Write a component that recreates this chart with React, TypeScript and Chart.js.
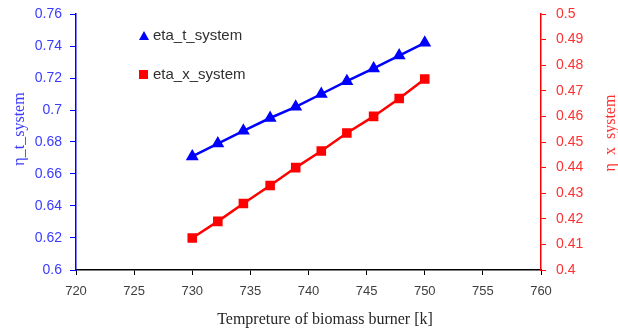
import React, { useEffect, useRef } from "react";
import { Chart, registerables } from "chart.js";

Chart.register(...registerables);

const temps = [730, 732.2, 734.4, 736.7, 738.9, 741.1, 743.3, 745.6, 747.8, 750];
const etaT = [0.671, 0.679, 0.687, 0.695, 0.702, 0.710, 0.718, 0.726, 0.734, 0.742];
const etaX = [0.4125, 0.419, 0.426, 0.433, 0.440, 0.4465, 0.4535, 0.460, 0.467, 0.4746];
const seriesNames = ["eta_t_system", "eta_x_system"];
const xTitle = "Tempreture of biomass burner [k]";
const yLeftTitle = "η_t_system";
const yRightTitle = "η  x  system";

const BLUE = "#0000ff";
const RED = "#ff0000";
const BLUE_TXT = "#3a3aff";
const RED_TXT = "#ff3030";

const overlay = {
  id: "overlay",
  afterDraw(chart: any) {
    const ctx = chart.ctx;
    ctx.save();
    ctx.fillStyle = "#262626";
    ctx.font = "16px 'Liberation Serif'";
    ctx.textAlign = "center";
    ctx.textBaseline = "middle";
    ctx.fillText(xTitle, 325, 320);
    ctx.save();
    ctx.translate(20, 129);
    ctx.rotate(-Math.PI / 2);
    ctx.fillStyle = BLUE_TXT;
    ctx.font = "16px 'Liberation Serif'";
    ctx.fillText(yLeftTitle, 0, 0);
    ctx.restore();
    ctx.save();
    ctx.translate(611, 133);
    ctx.rotate(-Math.PI / 2);
    ctx.fillStyle = RED_TXT;
    ctx.font = "16px 'Liberation Serif'";
    ctx.fillText(yRightTitle, 0, 0);
    ctx.restore();
    ctx.textAlign = "left";
    ctx.font = "15px 'Liberation Sans'";
    ctx.fillStyle = BLUE;
    ctx.beginPath();
    ctx.moveTo(144, 31);
    ctx.lineTo(149, 40);
    ctx.lineTo(139, 40);
    ctx.closePath();
    ctx.fill();
    ctx.fillStyle = "#303030";
    ctx.fillText(seriesNames[0], 153, 36);
    ctx.fillStyle = RED;
    ctx.fillRect(139, 70, 9, 9);
    ctx.fillStyle = "#303030";
    ctx.fillText(seriesNames[1], 153, 75);
    ctx.restore();
  },
};

export default function App() {
  const ref = useRef<HTMLCanvasElement>(null);
  useEffect(() => {
    const chart = new Chart(ref.current!, {
      type: "line",
      data: {
        datasets: [
          {
            label: seriesNames[0],
            data: temps.map((t, i) => ({ x: t, y: etaT[i] })),
            borderColor: BLUE,
            backgroundColor: BLUE,
            borderWidth: 2.5,
            pointStyle: "triangle",
            pointRadius: 5,
            yAxisID: "y",
          },
          {
            label: seriesNames[1],
            data: temps.map((t, i) => ({ x: t, y: etaX[i] })),
            borderColor: RED,
            backgroundColor: RED,
            borderWidth: 2.5,
            pointStyle: "rect",
            pointRadius: 5,
            yAxisID: "y1",
          },
        ],
      },
      options: {
        responsive: false,
        animation: false,
        layout: { padding: { top: 14, left: 0, right: 0, bottom: 0 } },
        plugins: { legend: { display: false }, tooltip: { enabled: false } },
        scales: {
          x: {
            type: "linear",
            min: 720,
            max: 760,
            ticks: { stepSize: 5, color: "#404040", font: { size: 13, family: "'Liberation Sans'" }, padding: 9 },
            grid: { drawOnChartArea: false, drawTicks: true, tickLength: 5, tickColor: "#000" },
            border: { color: "#000", width: 1.5 },
            afterFit: (s: any) => { s.height = 62; s.paddingLeft = 0; s.paddingRight = 0; },
          },
          y: {
            position: "left",
            min: 0.6,
            max: 0.76,
            ticks: {
              stepSize: 0.02,
              color: BLUE_TXT,
              font: { size: 14, family: "'Liberation Sans'" },
              padding: 8,
              callback: (v: any) => String(+Number(v).toFixed(2)),
            },
            grid: { drawOnChartArea: false, drawTicks: true, tickLength: 6, tickColor: BLUE },
            border: { color: BLUE, width: 1.5 },
            afterFit: (s: any) => { s.width = 76; s.paddingTop = 0; s.paddingBottom = 0; },
          },
          y1: {
            position: "right",
            min: 0.4,
            max: 0.5,
            ticks: {
              stepSize: 0.01,
              color: RED_TXT,
              font: { size: 14, family: "'Liberation Sans'" },
              padding: 10,
              callback: (v: any) => String(+Number(v).toFixed(2)),
            },
            grid: { drawOnChartArea: false, drawTicks: true, tickLength: 5, tickColor: RED },
            border: { color: RED, width: 1.5 },
            afterFit: (s: any) => { s.width = 77; s.paddingTop = 0; s.paddingBottom = 0; },
          },
        },
      },
      plugins: [overlay],
    });
    return () => chart.destroy();
  }, []);
  return (
    <div style={{ position: "fixed", left: 0, top: 0, width: 618, height: 332, background: "#fff" }}>
      <canvas ref={ref} width={618} height={332} />
    </div>
  );
}
